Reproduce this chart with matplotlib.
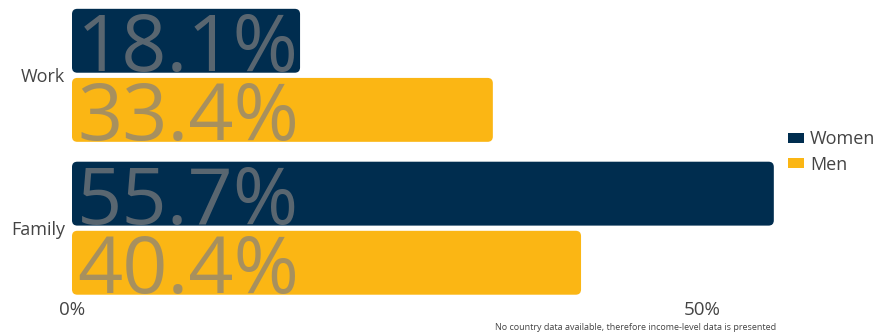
import matplotlib.pyplot as plt
from matplotlib.patches import FancyBboxPatch

plt.rcParams["font.family"] = ["Open Sans", "DejaVu Sans"]

categories = ["Work", "Family"]
women = [18.1, 55.7]
men = [33.4, 40.4]
series_names = ["Women", "Men"]
tick_values = [0, 50]
tick_labels = ["0%", "50%"]
note = "No country data available, therefore income-level data is presented"

NAVY = "#002d4f"
GOLD = "#fbb614"

fig = plt.figure(figsize=(8.92, 3.36), dpi=100)
ax = fig.add_axes([72 / 892, 1 - 297 / 336, (780 - 72) / 892, (297 - 5) / 336])

xmax = (780 - 72) / 12.6
ax.set_xlim(0, xmax)
ax.set_ylim(1.45, -0.46)

h = 0.418
off = 0.226
ypos = list(range(len(categories)))
bars_w = ax.barh([y - off for y in ypos], women, height=h, color=NAVY, label=series_names[0])
bars_m = ax.barh([y + off for y in ypos], men, height=h, color=GOLD, label=series_names[1])

# swap the square bars for rounded ones of the same size
aspect = 12.6 / 153
for bars, color, vals in [(bars_w, NAVY, women), (bars_m, GOLD, men)]:
    for b, v in zip(bars, vals):
        b.set_visible(False)
        x0, y0 = b.get_x(), b.get_y()
        w, hh = b.get_width(), b.get_height()
        p = FancyBboxPatch((x0, y0), w, hh,
                           boxstyle="round,pad=0,rounding_size=0.42",
                           mutation_aspect=aspect, fc=color, ec="none")
        ax.add_patch(p)
        ax.text(0.4, y0 + hh / 2, f"{v}%", fontsize=57, color="#828080",
                alpha=0.69, va="center_baseline", ha="left")

ax.set_yticks(ypos)
ax.set_yticklabels(categories, fontsize=13, color="#444444")
ax.set_xticks(tick_values)
ax.set_xticklabels(tick_labels, fontsize=13.5, color="#444444")
ax.tick_params(length=0, pad=5)
ax.tick_params(axis="x", pad=3)
for s in ax.spines.values():
    s.set_visible(False)

handles = [FancyBboxPatch((0, 0), 1, 1, boxstyle="round,pad=0,rounding_size=0.45", fc=c, ec="none")
           for c in (NAVY, GOLD)]
fig.legend(handles, series_names, loc="center left", bbox_to_anchor=(788 / 892, 1 - 152 / 336),
           frameon=False, fontsize=13, handlelength=0.9, handleheight=0.5,
           handletextpad=0.33, labelspacing=0.4, borderpad=0, borderaxespad=0,
           labelcolor="#444444")

fig.text(776 / 892, 1 - 327 / 336, note, fontsize=6.5, color="#444444", ha="right", va="center")

fig.savefig("out.png", dpi=100)
